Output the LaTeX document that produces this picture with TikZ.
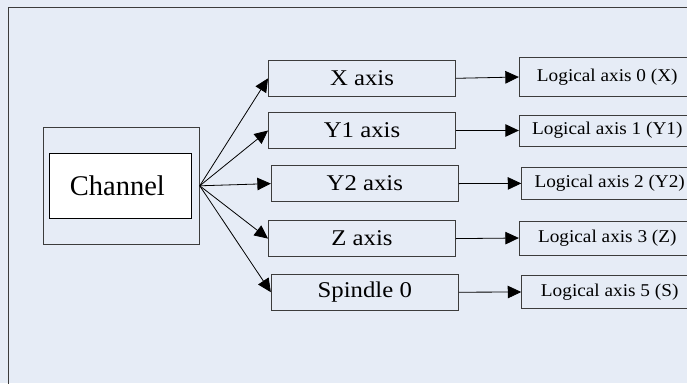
\documentclass[tikz,border=0pt]{standalone}
\usepackage{fontspec}
\usepackage{graphicx}
\setmainfont{Liberation Serif}
\usetikzlibrary{arrows.meta}
\definecolor{bgblue}{HTML}{E6ECF6}
\definecolor{edgegray}{HTML}{3C3C3C}
% labels are set slightly wide
\newcommand{\widetext}[2]{\scalebox{#1}[1]{#2}}
\tikzset{
  box/.style={draw=edgegray, line width=0.9pt, fill=bgblue, inner sep=0pt, anchor=center},
  axisbox/.style={box, minimum width=187pt, minimum height=36.5pt, font=\fontsize{22.5}{22.5}\selectfont},
  logbox/.style={box, minimum width=176pt, font=\fontsize{18}{18}\selectfont},
  link/.style={draw=black, line width=0.8pt, -{Triangle[length=13.5pt,width=12.5pt]}},
}
\begin{document}
\begin{tikzpicture}[x=1pt,y=-1pt]
  \useasboundingbox (0,0) rectangle (687,383);
  \clip (0,0) rectangle (687,383);
  \fill[bgblue] (0,0) rectangle (687,383);
  % outer frame, open to the right and bottom
  \draw[edgegray, line width=0.9pt] (8,400) -- (8,7.5) -- (700,7.5);

  % channel block
  \node[box, minimum width=156pt, minimum height=117pt] (chouter) at (121.3,185.8) {};
  \node[draw=black, line width=1.8pt, fill=white, minimum width=142pt, minimum height=65pt,
        font=\fontsize{28.5}{28.5}\selectfont] (chinner) at (120.4,185.9) {\hspace*{-6pt}Channel};

  % axes
  \node[axisbox] (ax) at (362,78.3) {\widetext{1.1}{X axis}};
  \node[axisbox] (ay1) at (362,130.5) {\widetext{1.1}{Y1 axis}};
  \node[axisbox] (ay2) at (364.8,183.6) {\widetext{1.1}{Y2 axis}};
  \node[axisbox] (az) at (362,238.6) {\widetext{1.1}{Z axis}};
  \node[axisbox] (asp) at (364.8,292.2) {\widetext{1.1}{Spindle 0}};

  % logical axes
  \node[logbox, minimum height=39pt] (lx) at (607.3,77) {\widetext{1.07}{Logical axis 0 (X)}};
  \node[logbox, minimum height=31pt] (ly1) at (607.3,130.5) {\widetext{1.07}{Logical axis 1 (Y1)}};
  \node[logbox, minimum height=32pt] (ly2) at (609.7,183.4) {\widetext{1.07}{Logical axis 2 (Y2)}};
  \node[logbox, minimum height=34pt] (lz) at (607.3,238) {\widetext{1.07}{Logical axis 3 (Z)}};
  \node[logbox, minimum height=33.4pt] (ls) at (609.7,292) {\widetext{1.07}{Logical axis 5 (S)}};

  % channel to axes
  \foreach \t in {ax,ay1,ay2,az,asp}
    \draw[link] (chouter.east) -- (\t.west);

  % axes to logical axes
  \draw[link] (ax.east) -- (lx.west);
  \draw[link] (ay1.east) -- (ly1.west);
  \draw[link] (ay2.east) -- (ly2.west);
  \draw[link] (az.east) -- (lz.west);
  \draw[link] (asp.east) -- (ls.west);
\end{tikzpicture}
\end{document}
